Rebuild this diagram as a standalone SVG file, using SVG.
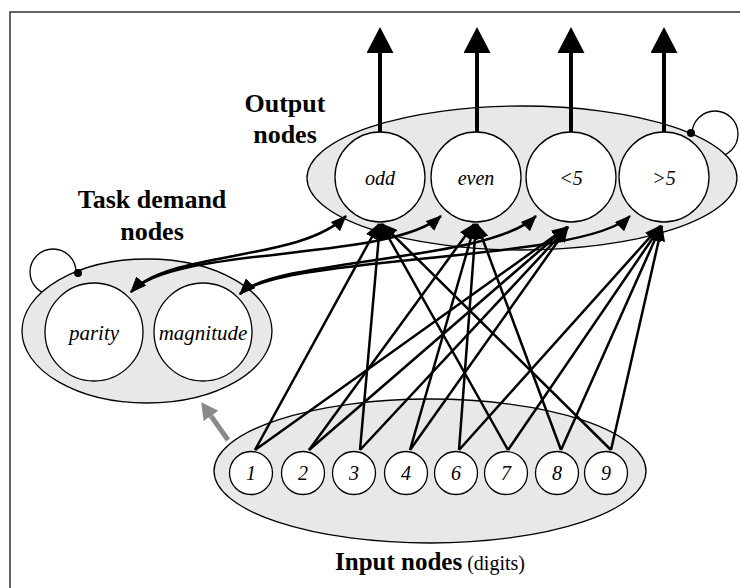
<svg xmlns="http://www.w3.org/2000/svg" width="740" height="588" viewBox="0 0 740 588">
<style>
.grp{fill:#e8e8e8;stroke:#000;stroke-width:1.3}
.nd{fill:#fff;stroke:#000;stroke-width:1.3}
.loop{fill:none;stroke:#000;stroke-width:1.3}
text{font-family:'Liberation Serif','Times New Roman','DejaVu Serif',serif}
.lbl{font-style:italic;font-size:20px;text-anchor:middle}
.ttl{font-weight:bold;font-size:26px;text-anchor:middle}
.cn{fill:none;stroke:#000;stroke-width:2.5}
.out{fill:none;stroke:#000;stroke-width:4}
</style>
<defs>
<marker id="ah" markerUnits="userSpaceOnUse" markerWidth="16" markerHeight="13" refX="15" refY="6.5" orient="auto-start-reverse" viewBox="0 0 16 13"><path d="M0,0 L16,6.5 L0,13 z" fill="#000"/></marker>
<marker id="big" markerUnits="userSpaceOnUse" markerWidth="26" markerHeight="27" refX="0" refY="13.5" orient="auto" viewBox="0 0 26 27"><path d="M0,0 L26,13.5 L0,27 z" fill="#000"/></marker>
<marker id="garr" markerUnits="userSpaceOnUse" markerWidth="17" markerHeight="18" refX="0" refY="9" orient="auto" viewBox="0 0 17 18"><path d="M0,0 L17,9 L0,18 z" fill="#8a8a8a"/></marker>
</defs>
<rect width="740" height="588" fill="#fff"/>
<path d="M10,588 L10,12 L740,12" fill="none" stroke="#333" stroke-width="1.5"/>

<g id="output-group">
<circle class="loop" cx="715" cy="134" r="23"/>
<ellipse class="grp" cx="522" cy="178" rx="215" ry="72"/>
<circle cx="691" cy="133" r="4" fill="#000"/>
<text class="ttl" x="285" y="112">Output</text>
<text class="ttl" x="285" y="143">nodes</text>
</g>
<g id="node-odd"><circle class="nd" cx="380" cy="177" r="45"/><text class="lbl" x="380" y="185">odd</text></g>
<g id="node-even"><circle class="nd" cx="476" cy="177" r="45"/><text class="lbl" x="476" y="185">even</text></g>
<g id="node-lt5"><circle class="nd" cx="571" cy="177" r="45"/><text class="lbl" x="571" y="185">&lt;5</text></g>
<g id="node-gt5"><circle class="nd" cx="664" cy="177" r="45"/><text class="lbl" x="664" y="185">&gt;5</text></g>

<g id="task-group">
<circle class="loop" cx="53" cy="272" r="23"/>
<ellipse class="grp" cx="147" cy="331" rx="125" ry="72"/>
<circle cx="78" cy="273" r="4" fill="#000"/>
<text class="ttl" x="152" y="208">Task demand</text>
<text class="ttl" x="152" y="240">nodes</text>
</g>
<g id="node-parity"><circle class="nd" cx="94" cy="332" r="49"/><text class="lbl" x="94" y="340" style="font-size:21px">parity</text></g>
<g id="node-magnitude"><circle class="nd" cx="203" cy="332" r="49"/><text class="lbl" x="203" y="340" style="font-size:21px">magnitude</text></g>

<g id="input-group">
<ellipse class="grp" cx="430" cy="471" rx="216" ry="72"/>
<text x="430" y="570" text-anchor="middle"><tspan font-weight="bold" font-size="25">Input nodes</tspan><tspan font-size="20"> (digits)</tspan></text>
</g>
<g id="node-1"><circle class="nd" cx="251" cy="473" r="21.5"/><text class="lbl" x="251" y="480">1</text></g>
<g id="node-2"><circle class="nd" cx="303" cy="473" r="21.5"/><text class="lbl" x="303" y="480">2</text></g>
<g id="node-3"><circle class="nd" cx="354" cy="473" r="21.5"/><text class="lbl" x="354" y="480">3</text></g>
<g id="node-4"><circle class="nd" cx="406" cy="473" r="21.5"/><text class="lbl" x="406" y="480">4</text></g>
<g id="node-6"><circle class="nd" cx="456" cy="473" r="21.5"/><text class="lbl" x="456" y="480">6</text></g>
<g id="node-7"><circle class="nd" cx="506" cy="473" r="21.5"/><text class="lbl" x="506" y="480">7</text></g>
<g id="node-8"><circle class="nd" cx="557" cy="473" r="21.5"/><text class="lbl" x="557" y="480">8</text></g>
<g id="node-9"><circle class="nd" cx="606" cy="473" r="21.5"/><text class="lbl" x="606" y="480">9</text></g>

<g id="connectors">
<path class="out" d="M380,132 L380,53" marker-end="url(#big)"/>
<path class="out" d="M477,132 L477,53" marker-end="url(#big)"/>
<path class="out" d="M571,132 L571,53" marker-end="url(#big)"/>
<path class="out" d="M664,132 L664,53" marker-end="url(#big)"/>

<path class="cn" d="M131,292 C170,250 300,262 346,216" marker-start="url(#ah)" marker-end="url(#ah)"/>
<path class="cn" d="M131,292 C175,245 390,262 441,216" marker-start="url(#ah)" marker-end="url(#ah)"/>
<path class="cn" d="M240,294 C275,258 490,262 536,216" marker-start="url(#ah)" marker-end="url(#ah)"/>
<path class="cn" d="M240,294 C280,255 585,262 630,216" marker-start="url(#ah)" marker-end="url(#ah)"/>

<path class="cn" d="M255,450 L379,224" marker-end="url(#ah)"/>
<path class="cn" d="M360,450 L380,224" marker-end="url(#ah)"/>
<path class="cn" d="M508,450 L381,224" marker-end="url(#ah)"/>
<path class="cn" d="M611,450 L382,224" marker-end="url(#ah)"/>

<path class="cn" d="M309,450 L474,224" marker-end="url(#ah)"/>
<path class="cn" d="M410,450 L475,224" marker-end="url(#ah)"/>
<path class="cn" d="M459,450 L476,224" marker-end="url(#ah)"/>
<path class="cn" d="M561,450 L477,224" marker-end="url(#ah)"/>

<path class="cn" d="M255,450 L567,227" marker-end="url(#ah)"/>
<path class="cn" d="M309,450 L567,227" marker-end="url(#ah)"/>
<path class="cn" d="M360,450 L568,227" marker-end="url(#ah)"/>
<path class="cn" d="M410,450 L568,227" marker-end="url(#ah)"/>

<path class="cn" d="M459,450 L660,226" marker-end="url(#ah)"/>
<path class="cn" d="M508,450 L661,226" marker-end="url(#ah)"/>
<path class="cn" d="M561,450 L661,226" marker-end="url(#ah)"/>
<path class="cn" d="M611,450 L662,226" marker-end="url(#ah)"/>

<path d="M228,440 L211,416" stroke="#8a8a8a" stroke-width="5" fill="none" marker-end="url(#garr)"/>
</g>
</svg>
